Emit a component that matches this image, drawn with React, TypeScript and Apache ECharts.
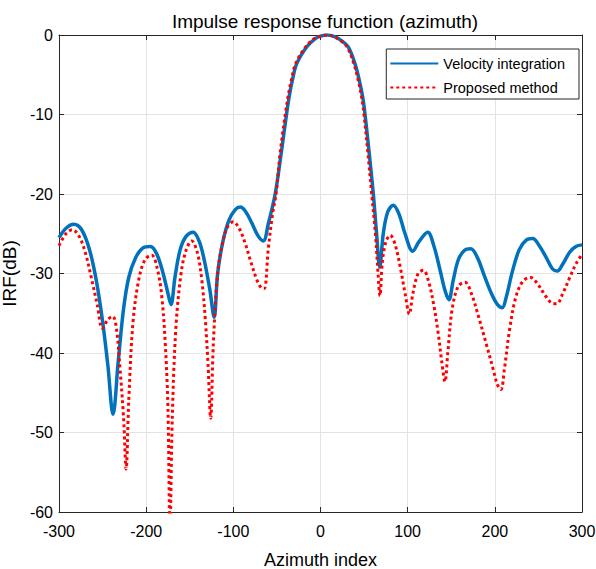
import React, { useEffect, useRef } from "react";
import * as echarts from "echarts";

const xTicks = [-300, -200, -100, 0, 100, 200, 300];
const yTicks = [-60, -50, -40, -30, -20, -10, 0];

const velocityX = [
  -300, -292, -283, -274, -265, -257, -250, -244, -238, -232, -226, -220, -212, -204, -195, -188, -181, -175, -171.5, -167,
  -161, -154, -146, -139, -133, -127, -122, -118, -112, -105, -98, -92, -86, -79, -72, -65.6, -60, -52, -46, -42,
  -38.5, -35.7, -32.3, -27.3, -15.9, -6, 0, 8, 16, 24, 31.8, 39.5, 44.5, 48.4, 51, 56, 60.6, 64, 68, 72,
  77, 83.5, 90, 97, 105.8, 113, 123, 130, 137, 143, 147.4, 152, 158, 165, 172.3, 180, 188, 196, 203, 208.5,
  213, 220, 228, 236, 243.4, 251, 259, 266, 271.6, 278, 286, 293, 300,
];
const velocityY = [
  -25.5, -24.3, -23.8, -24.5, -27, -31, -36, -41.5, -47.7, -41, -34.5, -30.5, -28, -26.8, -26.6, -27.5, -29.8, -32.5, -33.9, -30.5,
  -27, -25.3, -24.8, -26, -28.5, -32, -35.5, -30, -26, -23.3, -22, -21.65, -22.2, -23.6, -25.2, -25.9, -23.8, -20, -15.6, -12.4,
  -9.6, -7.6, -5.7, -3.6, -1.5, -0.45, -0.15, 0, -0.2, -0.7, -1.5, -3.6, -5.7, -7.8, -9.9, -15, -20, -24.5, -29.2, -25,
  -22.3, -21.4, -22.5, -25, -27.2, -26, -24.8, -26.5, -29.5, -32.2, -33.3, -31, -28.3, -27.1, -26.9, -28, -30.3, -32.5, -33.9, -34.3,
  -33, -29.8, -27, -25.8, -25.6, -26.5, -28, -29.4, -29.7, -28.8, -27.3, -26.6, -26.4,
];

const proposedX = [
  -300, -292, -284.7, -277, -270, -263, -256, -250.3, -244, -238.4, -234, -230, -226, -223, -220, -215, -208, -201, -193.7, -187,
  -182, -178, -175, -172.7, -170, -166, -160, -154, -147.8, -141, -136, -132, -129, -126, -123, -118, -112, -106, -100, -94,
  -87, -80, -73, -68, -64.5, -60, -55, -51, -46.5, -43.3, -40, -37, -33.5, -28.5, -17, -7, 0, 7, 15, 23,
  30.5, 38.3, 43.3, 47.2, 49.8, 54.5, 58.7, 63, 66, 68.2, 71, 75, 80, 86, 92, 97, 101.9, 106, 112, 118,
  124, 130, 135, 139, 142.8, 146, 151, 158, 165.8, 173, 181, 190, 198, 203, 207, 211, 217, 224, 232, 241,
  249, 258, 265, 271, 278, 286, 293, 300,
];
const proposedY = [
  -26.5, -25, -24.5, -25.3, -27.3, -30.5, -34, -36.9, -35.8, -35.4, -37, -42, -48, -54.6, -46, -36, -30.5, -28.2, -27.7, -29.5,
  -33, -39, -47, -62, -48, -37, -30, -27, -25.9, -27.5, -31, -36, -41.5, -48.2, -39, -30, -26, -24, -23.5, -24.2,
  -26, -28.5, -30.8, -31.8, -31.9, -27, -22.5, -20, -15, -12.3, -9.7, -7.6, -5.7, -3.6, -1.5, -0.45, -0.15, 0, -0.2, -0.7,
  -1.5, -3.6, -5.7, -7.8, -9.9, -15, -20, -25, -30, -32.8, -28.5, -26, -25.2, -26.5, -29.5, -32.5, -35.1, -32.5, -30, -29.6,
  -31, -34, -37.5, -41, -43.6, -40, -34.5, -31.6, -31.1, -32.5, -35.3, -38.8, -42, -44, -44.6, -42, -37, -33, -31, -30.5,
  -31.3, -32.8, -33.7, -33.8, -32.5, -30.5, -28.8, -27.6,
];

const FONT = "'Liberation Sans', Arial, sans-serif";

export default function App() {
  const ref = useRef<HTMLDivElement>(null);
  useEffect(() => {
    if (!ref.current) return;
    const chart = echarts.init(ref.current, null, { renderer: "svg" });
    const velocity = velocityX.map((x, i) => [x, velocityY[i]]);
    const proposed = proposedX.map((x, i) => [x, proposedY[i]]);
    const axisCommon = {
      type: "value" as const,
      axisLine: { show: true, onZero: false, lineStyle: { color: "#262626", width: 1 } },
      axisTick: { show: true, inside: true, length: 5, lineStyle: { color: "#262626" } },
    };
    chart.setOption({
      animation: false,
      backgroundColor: "#fff",
      textStyle: { fontFamily: FONT },
      title: {
        text: "Impulse response function (azimuth)",
        left: 320,
        top: 7,
        textAlign: "center",
        textStyle: { fontFamily: FONT, fontSize: 19, fontWeight: "normal", color: "#000" },
      },
      legend: {
        orient: "vertical",
        right: 17,
        top: 49,
        itemWidth: 48,
        itemHeight: 14,
        itemGap: 9,
        padding: [7, 14, 4, 3],
        backgroundColor: "#fff",
        borderColor: "#262626",
        borderWidth: 1,
        itemStyle: { opacity: 0 },
        textStyle: { fontFamily: FONT, fontSize: 14.5, color: "#000" },
        data: ["Velocity integration", "Proposed method"],
      },
      grid: { left: 59, right: 14, top: 35, bottom: 57, show: false, containLabel: false, outerBoundsMode: "none" },
      xAxis: [
        {
          ...axisCommon,
          min: -300,
          max: 300,
          interval: 100,
          name: "Azimuth index",
          nameLocation: "middle",
          nameGap: 39,
          nameTextStyle: { fontFamily: FONT, fontSize: 18, color: "#000" },
          axisLabel: { fontFamily: FONT, fontSize: 16, color: "#000", margin: 11 },
          splitLine: { show: true, lineStyle: { color: "#e3e3e3", width: 1 } },
        },
        {
          ...axisCommon,
          position: "top",
          min: -300,
          max: 300,
          interval: 100,
          axisLabel: { show: false },
          splitLine: { show: false },
        },
      ],
      yAxis: [
        {
          ...axisCommon,
          min: -60,
          max: 0,
          interval: 10,
          name: "IRF(dB)",
          nameLocation: "middle",
          nameGap: 40,
          nameTextStyle: { fontFamily: FONT, fontSize: 19, color: "#000" },
          axisLabel: { fontFamily: FONT, fontSize: 16, color: "#000", margin: 6 },
          splitLine: { show: true, lineStyle: { color: "#e3e3e3", width: 1 } },
        },
        {
          ...axisCommon,
          position: "right",
          min: -60,
          max: 0,
          interval: 10,
          axisLabel: { show: false },
          splitLine: { show: false },
        },
      ],
      series: [
        {
          name: "Velocity integration",
          type: "line",
          data: velocity,
          smooth: 0.35,
          symbol: "none",
          clip: true,
          lineStyle: { color: "#0072BD", width: 3.5 },
          itemStyle: { color: "#0072BD" },
          z: 2,
        },
        {
          name: "Proposed method",
          type: "line",
          data: proposed,
          smooth: 0.35,
          symbol: "none",
          clip: true,
          lineStyle: { color: "#ff0000", width: 3, type: [3, 3] },
          itemStyle: { color: "#ff0000" },
          z: 3,
        },
      ],
    });
    return () => chart.dispose();
  }, []);
  return <div ref={ref} style={{ width: 596, height: 569, position: "absolute", left: 0, top: 0 }} />;
}
